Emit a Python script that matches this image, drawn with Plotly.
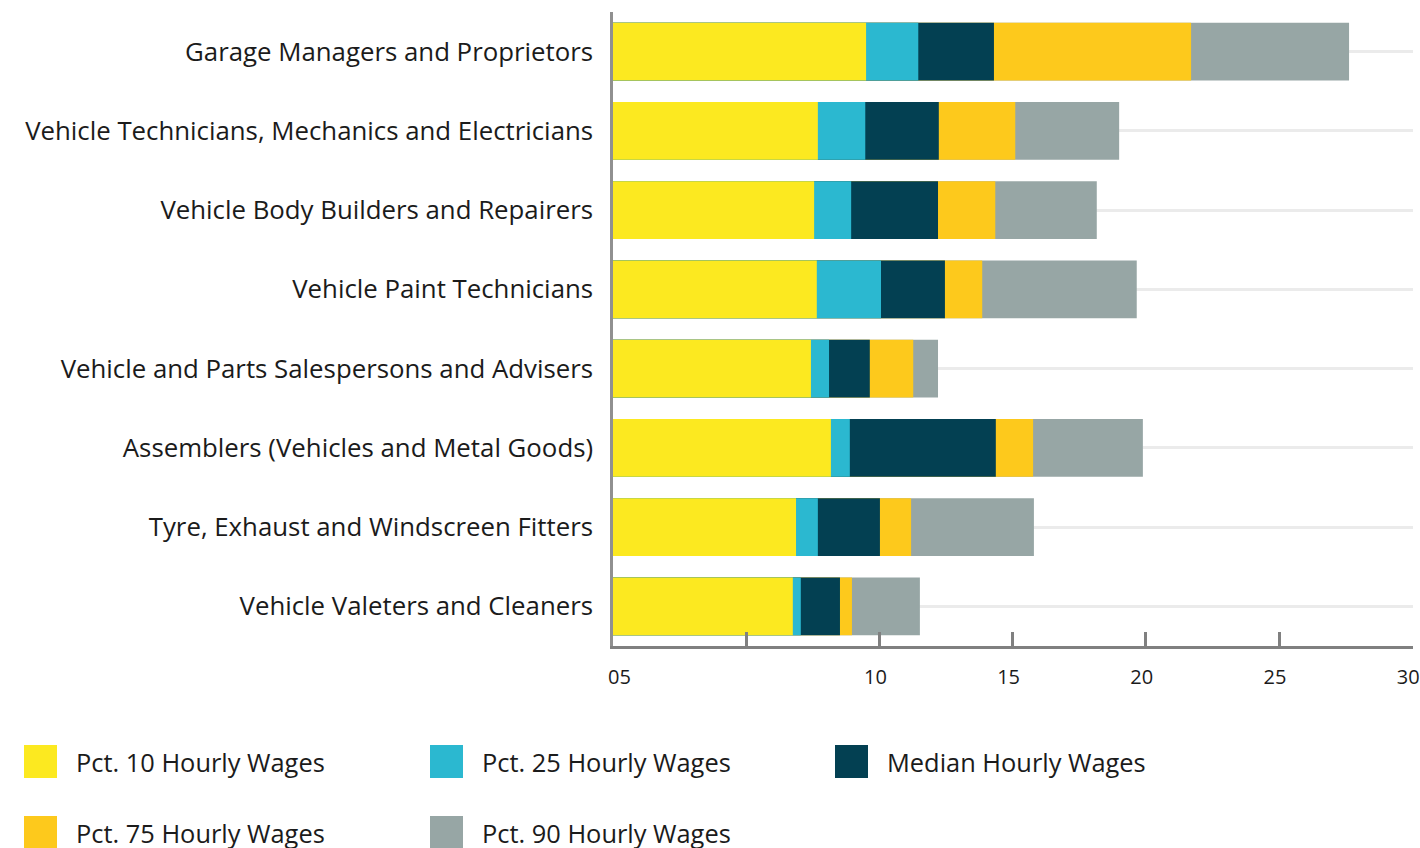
import plotly.graph_objects as go

# ---------------- data ----------------
categories = [
    "Garage Managers and Proprietors",
    "Vehicle Technicians, Mechanics and Electricians",
    "Vehicle Body Builders and Repairers",
    "Vehicle Paint Technicians",
    "Vehicle and Parts Salespersons and Advisers",
    "Assemblers (Vehicles and Metal Goods)",
    "Tyre, Exhaust and Windscreen Fitters",
    "Vehicle Valeters and Cleaners",
]
pct10 = [9.50, 7.69, 7.55, 7.65, 7.43, 8.18, 6.87, 6.75]
pct25 = [11.46, 9.47, 8.94, 10.06, 8.11, 8.89, 7.69, 7.05]
median = [14.30, 12.23, 12.20, 12.46, 9.64, 14.37, 10.02, 8.52]
pct75 = [21.70, 15.10, 14.35, 13.86, 11.27, 15.77, 11.19, 8.97]
pct90 = [27.63, 19.00, 18.16, 19.66, 12.20, 19.89, 15.80, 11.52]

series_names = ["Pct. 10 Hourly Wages", "Pct. 25 Hourly Wages", "Median Hourly Wages",
                "Pct. 75 Hourly Wages", "Pct. 90 Hourly Wages"]
series_values = [pct10, pct25, median, pct75, pct90]
colors = ["#FCE920", "#2BB8D0", "#034052", "#FDC91C", "#97A6A5"]

tick_vals = [0, 5, 10, 15, 20, 25, 30]
tick_text = ["\u00a0\u00a0\u00a0\u00a005", "", "10", "15", "20", "25", "30"]

# ---------------- layout geometry ----------------
W, H = 1420, 848
ML, MR, MT, MB = 613, 7, 12, 202
FONT = "Open Sans"
TEXT_COLOR = "#1b1b1b"

def px_x(p):
    return (p - ML) / (W - ML - MR)

def px_y(p):
    return (H - MB - p) / (H - MT - MB)

fig = go.Figure()
# draw largest first so smaller percentiles overlay on top
for name, vals, col in reversed(list(zip(series_names, series_values, colors))):
    fig.add_trace(go.Bar(
        y=categories, x=vals, name=name, orientation="h",
        marker=dict(color=col, line=dict(width=0)), opacity=1,
        showlegend=False,
    ))

# custom legend (large square swatches)
legend_cols = [24, 430, 835]
legend_rows = [745, 816]
shapes = []
annotations = []
for i, (name, col) in enumerate(zip(series_names, colors)):
    r, c = divmod(i, 3)
    x0 = legend_cols[c]
    y0 = legend_rows[r]
    shapes.append(dict(type="rect", xref="paper", yref="paper",
                       x0=px_x(x0), x1=px_x(x0 + 33), y0=px_y(y0), y1=px_y(y0 + 33),
                       fillcolor=col, line=dict(width=0), layer="above"))
    annotations.append(dict(xref="paper", yref="paper", x=px_x(x0 + 50), y=px_y(y0 + 17),
                            text=name, showarrow=False, xanchor="left", yanchor="middle",
                            font=dict(family=FONT, size=25.4, color=TEXT_COLOR)))

fig.update_layout(
    width=W, height=H,
    margin=dict(l=ML, r=MR, t=MT, b=MB, pad=0, autoexpand=False),
    barmode="overlay", bargap=0.27,
    plot_bgcolor="white", paper_bgcolor="white",
    font=dict(family=FONT, color=TEXT_COLOR),
    shapes=shapes, annotations=annotations,
    showlegend=False,
    xaxis=dict(range=[0, 30.03], tickvals=tick_vals, ticktext=tick_text,
               automargin=False,
               showgrid=False, zeroline=False,
               showline=True, linecolor="#808080", linewidth=2.5,
               ticks="inside", ticklen=14, tickwidth=2.5, tickcolor="#808080",
               tickfont=dict(family=FONT, size=20, color=TEXT_COLOR),
               ticklabelstandoff=11, ticklabelshift=-4),
    yaxis=dict(categoryorder="array", categoryarray=categories,
               range=[7.5, -0.5], automargin=False,
               showgrid=True, gridcolor="#EBEBEB", gridwidth=3,
               zeroline=False, showline=True, linecolor="#909090", linewidth=2.5,
               ticks="", tickfont=dict(family=FONT, size=25.8, color=TEXT_COLOR),
               ticklabelstandoff=12),
)

fig.write_html("out.html", config={"displayModeBar": False},
               post_script="document.body.style.margin='0';document.body.style.overflow='hidden';")
